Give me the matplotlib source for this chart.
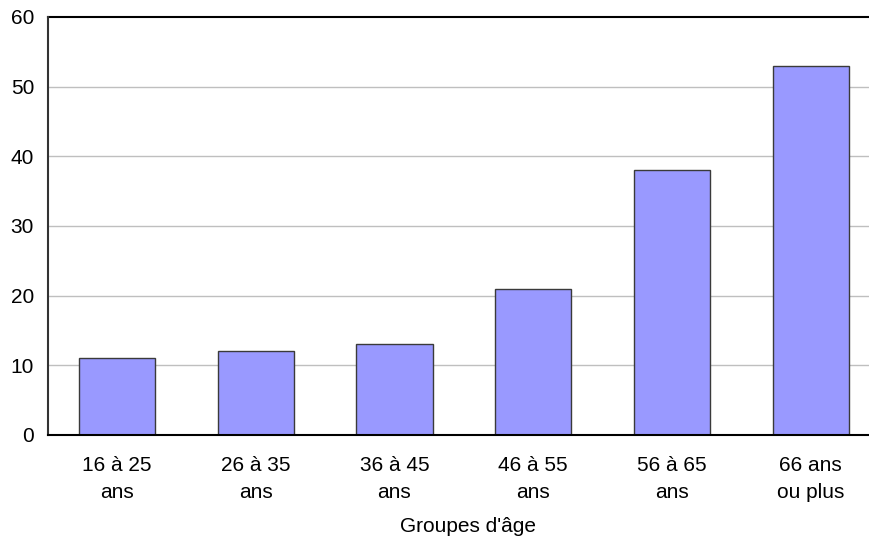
import numpy as np
import matplotlib.pyplot as plt

plt.rcParams['font.family'] = ['Liberation Sans', 'DejaVu Sans']

groupes = ['16 à 25\nans', '26 à 35\nans', '36 à 45\nans', '46 à 55\nans', '56 à 65\nans', '66 ans\nou plus']
valeurs = [11, 12, 13, 21, 38, 53]

fig = plt.figure(figsize=(8.69, 5.39), dpi=100)
ax = fig.add_axes([0.0552, 0.193, 0.9448, 0.7755])

x = np.arange(len(groupes))
ax.bar(x, valeurs, width=0.55, color='#9999ff', edgecolor='#3a3a3a', linewidth=1.0, zorder=3)

ax.set_xlim(-0.497, 5.42)
ax.set_ylim(0, 60)
ax.set_yticks(np.arange(0, 61, 10))
ax.set_xticks(x)
ax.set_xticklabels(groupes, linespacing=1.55)

# grille horizontale grise, ligne du haut en noir
for y in range(10, 60, 10):
    ax.axhline(y, color='#bfbfbf', linewidth=1.0, zorder=1)
ax.axhline(60, color='black', linewidth=1.5, zorder=2, clip_on=False)

for s in ['top', 'right']:
    ax.spines[s].set_visible(False)
ax.spines['left'].set_color('#333333')
ax.spines['left'].set_linewidth(1.5)
ax.spines['bottom'].set_color('black')
ax.spines['bottom'].set_linewidth(1.5)
ax.spines['bottom'].set_zorder(4)

ax.tick_params(axis='both', length=0, labelsize=15)
ax.tick_params(axis='x', pad=15)
ax.tick_params(axis='y', pad=10)

fig.text(468 / 869, 1 - 527 / 539, "Groupes d'âge", ha='center', va='center', fontsize=15)

fig.savefig('out.png', dpi=100)
